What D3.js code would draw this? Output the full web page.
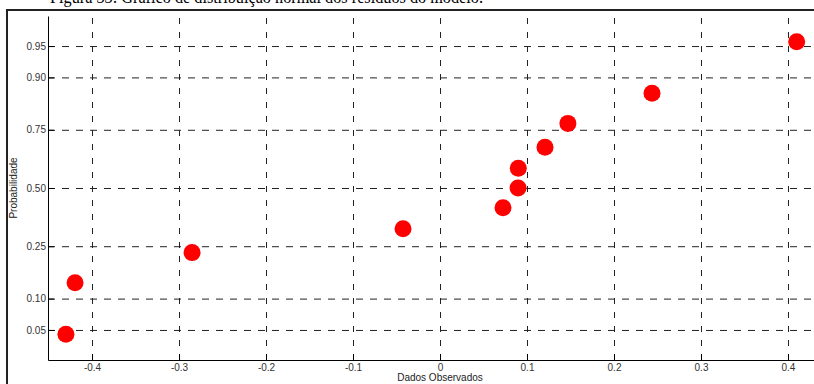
<!DOCTYPE html>
<html>
<head>
<meta charset="utf-8">
<script src="https://cdn.jsdelivr.net/npm/d3@7"></script>
<style>
  body { margin: 0; background: #fff; }
  svg { display: block; }
  .tick text { font-family: 'Liberation Sans', Arial, sans-serif; font-size: 10px; fill: #333; }
</style>
</head>
<body>
<div id="main-content"></div>
<script>
'use strict'

// observed residuals and their plotting probabilities
const observed = [-0.430, -0.4195, -0.285, -0.0425, 0.0724, 0.0897, 0.0900, 0.1207, 0.147, 0.2437, 0.410]
const probability = [0.045, 0.136, 0.227, 0.318, 0.409, 0.500, 0.591, 0.682, 0.773, 0.864, 0.955]

const xTicks = [-0.4, -0.3, -0.2, -0.1, 0, 0.1, 0.2, 0.3, 0.4]
const xTickLabels = ['-0.4', '-0.3', '-0.2', '-0.1', '0', '0.1', '0.2', '0.3', '0.4']
const yTicks = [0.05, 0.10, 0.25, 0.50, 0.75, 0.90, 0.95]
const yTickLabels = ['0.05', '0.10', '0.25', '0.50', '0.75', '0.90', '0.95']

const width = 814,
		height = 384

const margin = { left: 48, top: 16, right: 0, bottom: 24 }

// inverse of standard normal cdf (Acklam approximation) - used for the probability axis
const probit = (p) => {
	const a = [-39.69683028665376, 220.9460984245205, -275.9285104469687, 138.3577518672690, -30.66479806614716, 2.506628277459239]
	const b = [-54.47609879822406, 161.5858368580409, -155.6989798598866, 66.80131188771972, -13.28068155288572]
	const c = [-0.007784894002430293, -0.3223964580411365, -2.400758277161838, -2.549732539343734, 4.374664141464968, 2.938163982698783]
	const d = [0.007784695709041462, 0.3224671290700398, 2.445134137142996, 3.754408661907416]
	const pl = 0.02425
	let q, r
	if (p < pl) {
		q = Math.sqrt(-2 * Math.log(p))
		return (((((c[0]*q+c[1])*q+c[2])*q+c[3])*q+c[4])*q+c[5]) / ((((d[0]*q+d[1])*q+d[2])*q+d[3])*q+1)
	}
	if (p > 1 - pl) {
		q = Math.sqrt(-2 * Math.log(1 - p))
		return -(((((c[0]*q+c[1])*q+c[2])*q+c[3])*q+c[4])*q+c[5]) / ((((d[0]*q+d[1])*q+d[2])*q+d[3])*q+1)
	}
	q = p - 0.5
	r = q * q
	return (((((a[0]*r+a[1])*r+a[2])*r+a[3])*r+a[4])*r+a[5])*q / (((((b[0]*r+b[1])*r+b[2])*r+b[3])*r+b[4])*r+1)
}

const svg = d3.select('#main-content').append('svg')
	.attr('width', width)
	.attr('height', height)

// caption, cut off at the top of the picture like in the source page
svg.append('text')
	.attr('x', 50)
	.attr('y', 3)
	.attr('textLength', 433)
	.attr('lengthAdjust', 'spacingAndGlyphs')
	.style('font-family', "'Liberation Serif', 'Times New Roman', serif")
	.style('font-size', '19px')
	.style('fill', '#000')
	.text('Figura 33: Gráfico de distribuição normal dos resíduos do modelo.')

// figure frame
svg.append('path')
	.attr('d', `M7,${height} V10 H${width}`)
	.attr('fill', 'none')
	.attr('stroke', '#222')
	.attr('stroke-width', 2)

const x = d3.scaleLinear()
	.domain([-0.4506, 0.4299])
	.range([margin.left, width - margin.right])

const y = d3.scaleLinear()
	.domain([-1.993, 1.993])
	.range([height - margin.bottom, margin.top])

const plotH = height - margin.bottom - margin.top
const plotW = width - margin.right - margin.left

// dashed grid
svg.append('g')
	.attr('transform', `translate(0,${height - margin.bottom})`)
	.call(d3.axisBottom(x).tickValues(xTicks).tickSize(-plotH).tickFormat(''))
	.call(g => g.select('.domain').remove())
	.call(g => g.selectAll('line').attr('stroke', '#222').attr('stroke-dasharray', '6,8'))

svg.append('g')
	.attr('transform', `translate(${margin.left},0)`)
	.call(d3.axisLeft(y).tickValues(yTicks.map(probit)).tickSize(-plotW).tickFormat(''))
	.call(g => g.select('.domain').remove())
	.call(g => g.selectAll('line').attr('stroke', '#222').attr('stroke-dasharray', '7,7'))

// axes with inward ticks
svg.append('g')
	.attr('transform', `translate(0,${height - margin.bottom})`)
	.call(d3.axisBottom(x).tickValues(xTicks).tickSizeInner(-6).tickSizeOuter(0).tickPadding(4)
		.tickFormat((d, i) => xTickLabels[i]))
	.call(g => g.select('.domain').attr('stroke', '#000'))

svg.append('g')
	.attr('transform', `translate(${margin.left},0)`)
	.call(d3.axisLeft(y).tickValues(yTicks.map(probit)).tickSizeInner(-6).tickSizeOuter(0).tickPadding(2)
		.tickFormat((d, i) => yTickLabels[i]))
	.call(g => g.select('.domain').attr('stroke', '#000'))

// axis titles
svg.append('text')
	.attr('x', x(0))
	.attr('y', 381)
	.attr('text-anchor', 'middle')
	.style('font-family', "'Liberation Sans', Arial, sans-serif")
	.style('font-size', '10px')
	.style('fill', '#222')
	.text('Dados Observados')

svg.append('text')
	.attr('transform', `translate(17,${y(0)}) rotate(-90)`)
	.attr('text-anchor', 'middle')
	.style('font-family', "'Liberation Sans', Arial, sans-serif")
	.style('font-size', '10px')
	.style('fill', '#222')
	.text('Probabilidade')

// points
svg.append('g')
	.selectAll('circle')
	.data(observed.map((v, i) => ({ v: v, p: probability[i] })))
	.enter().append('circle')
	.attr('cx', d => x(d.v))
	.attr('cy', d => y(probit(d.p)))
	.attr('r', 8.5)
	.attr('fill', '#ff0000')
</script>
</body>
</html>
